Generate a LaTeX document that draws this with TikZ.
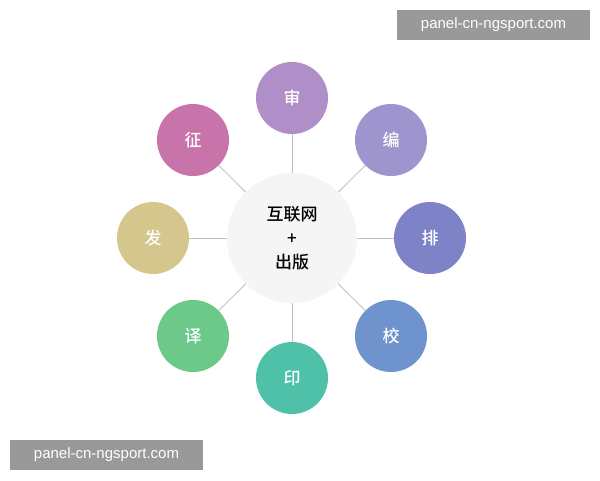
\documentclass[tikz,border=0pt]{standalone}
\usepackage{fontspec}
\setmainfont{Noto Sans CJK SC}[BoldFont={Noto Sans CJK SC Medium}]
\newfontfamily\wmfont{Liberation Sans}
\begin{document}
\begin{tikzpicture}[x=1pt,y=-1pt,
  outer/.style={circle,minimum size=72pt,inner sep=0pt,text=white,font=\fontsize{17}{19}\selectfont\bfseries},
  link/.style={draw=black!25,line width=0.8pt},
  wm/.style={fill=black!40,text=white,minimum width=193pt,minimum height=30pt,inner sep=0pt,font=\wmfont\fontsize{15}{17}\selectfont}]
\useasboundingbox (0,0) rectangle (600,480);
\node[circle,fill=black!4,minimum size=130pt,inner sep=0pt,align=center,font=\fontsize{17}{24}\selectfont\bfseries] (c) at (292,238) {互联网\\+\\出版};
\node[outer,fill={rgb,255:red,176;green,143;blue,200}] (a) at (292,98) {审};
\node[outer,fill={rgb,255:red,158;green,149;blue,207}] (b) at (391,140) {编};
\node[outer,fill={rgb,255:red,126;green,131;blue,200}] (d) at (430,238) {排};
\node[outer,fill={rgb,255:red,111;green,147;blue,204}] (e) at (391,336) {校};
\node[outer,fill={rgb,255:red,79;green,193;blue,168}] (f) at (292,378) {印};
\node[outer,fill={rgb,255:red,108;green,201;blue,138}] (g) at (193,336) {译};
\node[outer,fill={rgb,255:red,213;green,198;blue,142}] (h) at (153,238) {发};
\node[outer,fill={rgb,255:red,200;green,115;blue,169}] (i) at (193,140) {征};
\foreach \n in {a,b,d,e,f,g,h,i} \draw[link] (c) -- (\n);
\node[wm] (w1) at (493.5,25) {panel-cn-ngsport.com};
\node[wm] (w2) at (106.5,455) {panel-cn-ngsport.com};
\end{tikzpicture}
\end{document}
